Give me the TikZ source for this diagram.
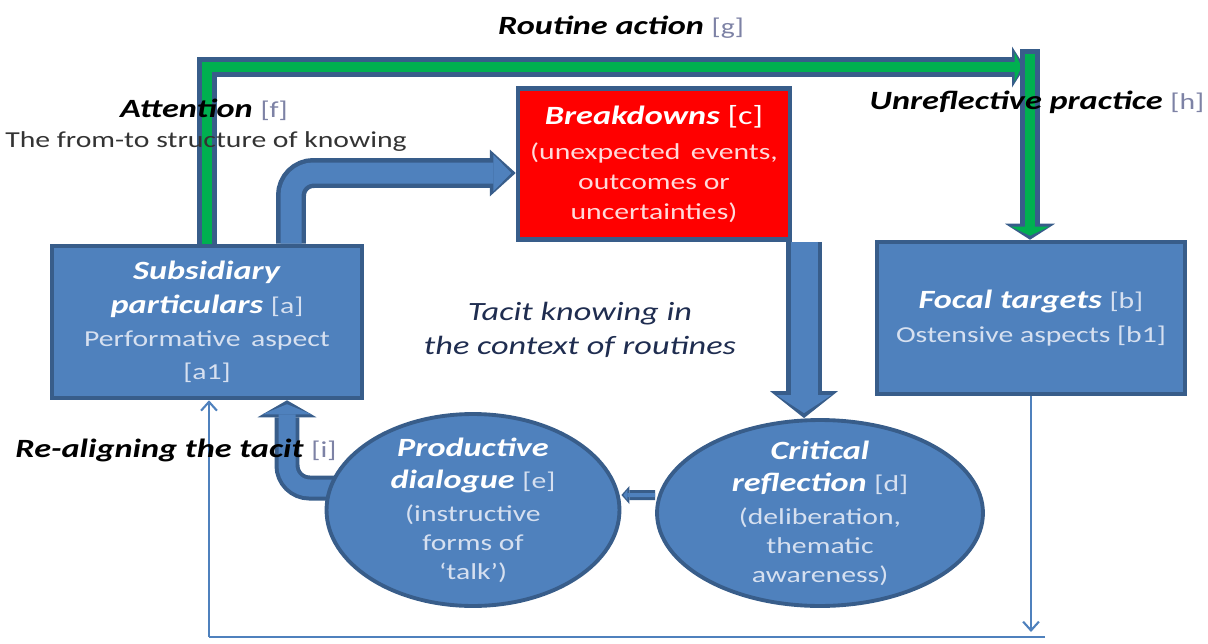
\documentclass[tikz,border=0pt]{standalone}
\usepackage{fontspec}
\setmainfont{Carlito}[FakeStretch=1.3]
\usetikzlibrary{shapes.geometric,arrows.meta,backgrounds}

\definecolor{boxblue}{RGB}{79,129,189}
\definecolor{edgeblue}{RGB}{56,93,138}
\definecolor{routegreen}{RGB}{0,176,80}
\definecolor{tagtext}{RGB}{125,130,165}
\definecolor{paletext}{RGB}{214,224,240}
\definecolor{palered}{RGB}{255,218,218}
\definecolor{darknavy}{RGB}{31,45,80}

\newcommand{\bi}[1]{\textbf{\textit{#1}}}
\newcommand{\subfont}{\fontsize{13}{16}\selectfont}
\newcommand{\outtag}[1]{{\subfont\color{tagtext}#1}}
\newcommand{\intag}[1]{{\subfont\color{paletext}#1}}

\tikzset{
  box/.style={rectangle, draw=edgeblue, line width=2.6pt, fill=boxblue, text=white,
    align=center, font=\fontsize{15}{19}\selectfont},
  oval/.style={ellipse, draw=edgeblue, line width=2.2pt, fill=boxblue, inner sep=0pt},
  ovaltext/.style={align=center, text=white, font=\fontsize{15}{16.5}\selectfont},
  lbl/.style={font=\fontsize{15}{18}\selectfont, text=black},
  edge/.style={draw=edgeblue},
  core/.style={draw=boxblue},
  greencore/.style={draw=routegreen},
  link/.style={draw=boxblue, line width=1.2pt}
}

\begin{document}
\begin{tikzpicture}[x=0.02cm, y=-0.02cm]
\useasboundingbox (0,0) rectangle (1208,643);

% main boxes
\node[box, minimum width=6.2cm, minimum height=3.04cm] (subsidiary) at (207,322)
  {\bi{Subsidiary}\\ \bi{particulars} \intag{[a]}\\
   {\subfont\color{paletext}Performative\, aspect}\\ \intag{[a1]}};
\node[box, fill=red, minimum width=5.44cm, minimum height=3.02cm] (breakdowns) at (654,164)
  {\bi{Breakdowns} [c]\\[1pt]
   {\subfont\color{palered}(unexpected\, events,}\\[-2pt]
   {\subfont\color{palered}outcomes or}\\[-2pt]
   {\subfont\color{palered}uncertainties)}};
\node[box, minimum width=6.16cm, minimum height=3.04cm] (focal) at (1031,318)
  {\bi{Focal targets} \intag{[b]}\\ {\subfont\color{paletext}Ostensive aspects [b1]}};

% ellipses
\node[oval, minimum width=5.86cm, minimum height=3.84cm,
  label={[ovaltext]center:\bi{Productive}\\[2pt] \bi{dialogue} \intag{[e]}\\[2pt]
   {\subfont\color{paletext}(instructive}\\ {\subfont\color{paletext}forms of}\\
   {\subfont\color{paletext}`talk')}}] (productive) at (473,510) {};
\node[oval, minimum width=6.52cm, minimum height=3.72cm,
  label={[ovaltext]center:\bi{Critical}\\[2pt] \bi{reflection} \intag{[d]}\\[2pt]
   {\subfont\color{paletext}(deliberation,}\\ {\subfont\color{paletext}thematic}\\
   {\subfont\color{paletext}awareness)}}] (critical) at (820,513) {};

\coordinate (gtop) at (1030,67);
\coordinate (loopr) at (1045,637);
\coordinate (loopl) at (209,637);

\begin{scope}[on background layer]
% routine action (green)
\draw[edge, line width=0.4cm, -{Triangle[length=0.26cm, width=0.82cm, line width=0pt]}]
  (subsidiary.north) |- ([xshift=-0.1cm]gtop);
\draw[greencore, line width=0.2cm, shorten >=0.07cm, -{Triangle[length=0.14cm, width=0.6cm, line width=0pt]}]
  (subsidiary.north) |- ([xshift=-0.1cm]gtop);
\draw[edge, line width=0.4cm, -{Triangle[length=0.32cm, width=1.0cm, line width=0pt]}]
  ([yshift=0.36cm]gtop) -- (gtop |- focal.north);
\draw[greencore, line width=0.2cm, shorten >=0.08cm, -{Triangle[length=0.18cm, width=0.76cm, line width=0pt]}]
  ([yshift=0.26cm]gtop) -- (gtop |- focal.north);

% subsidiary to breakdowns
\draw[edge, line width=0.6cm, rounded corners=0.45cm, -{Triangle[length=0.52cm, width=0.94cm, line width=0pt]}]
  (291,0 |- subsidiary.north) |- ([yshift=-0.18cm]breakdowns.west);
\draw[core, line width=0.42cm, rounded corners=0.45cm, shorten >=0.09cm, -{Triangle[length=0.36cm, width=0.74cm, line width=0pt]}]
  (291,0 |- subsidiary.north) |- ([yshift=-0.18cm]breakdowns.west);

% breakdowns to critical reflection
\draw[edge, line width=0.72cm, -{Triangle[length=0.54cm, width=1.36cm, line width=0pt]}]
  (804,0 |- breakdowns.south) -- (804,0 |- critical.north);
\draw[core, line width=0.54cm, shorten >=0.1cm, -{Triangle[length=0.36cm, width=1.1cm, line width=0pt]}]
  (804,0 |- breakdowns.south) -- (804,0 |- critical.north);

% critical reflection to productive dialogue
\draw[edge, line width=0.2cm, -{Triangle[length=0.16cm, width=0.36cm, line width=0pt]}]
  ([yshift=0.36cm]critical.west) -- ([yshift=0.3cm]productive.east);
\draw[core, line width=0.08cm, shorten >=0.04cm, -{Triangle[length=0.08cm, width=0.2cm, line width=0pt]}]
  ([yshift=0.36cm]critical.west) -- ([yshift=0.3cm]productive.east);

% productive dialogue back to subsidiary
\draw[edge, line width=0.5cm, rounded corners=0.45cm, -{Triangle[length=0.34cm, width=1.18cm, line width=0pt]}]
  ([xshift=0.3cm, yshift=0.44cm]productive.west) -| (287,0 |- subsidiary.south);
\draw[core, line width=0.34cm, rounded corners=0.45cm, shorten >=0.08cm, -{Triangle[length=0.2cm, width=0.98cm, line width=0pt]}]
  ([xshift=0.3cm, yshift=0.44cm]productive.west) -| (287,0 |- subsidiary.south);
\end{scope}

% thin loop focal -> subsidiary
\draw[link, -{Straight Barb[length=5pt, width=9pt]}] (focal.south) -- (focal.south |- 0,632);
\draw[link] (loopr) -- (loopl);
\draw[link, -{Straight Barb[length=5pt, width=9pt]}] (loopl) -- (subsidiary.south -| loopl);

% labels
\node[lbl] (routine) at (621,27) {\bi{Routine action} \outtag{[g]}};
\node[lbl] (attention) at (204,110) {\bi{Attention} \outtag{[f]}};
\node[lbl, font=\subfont, text=black!80] (fromto) at (206,142) {The from-to structure of knowing};
\node[lbl] (unreflective) at (1037,102) {\bi{Unreflective practice} \outtag{[h]}};
\node[lbl] (realign) at (176,450) {\bi{Re-aligning the tacit} \outtag{[i]}};
\node[lbl, text=darknavy, align=center, font=\fontsize{15}{19}\selectfont] (tacit) at (580,330)
  {\textit{Tacit knowing in}\\ \textit{the context of routines}};

\end{tikzpicture}
\end{document}
